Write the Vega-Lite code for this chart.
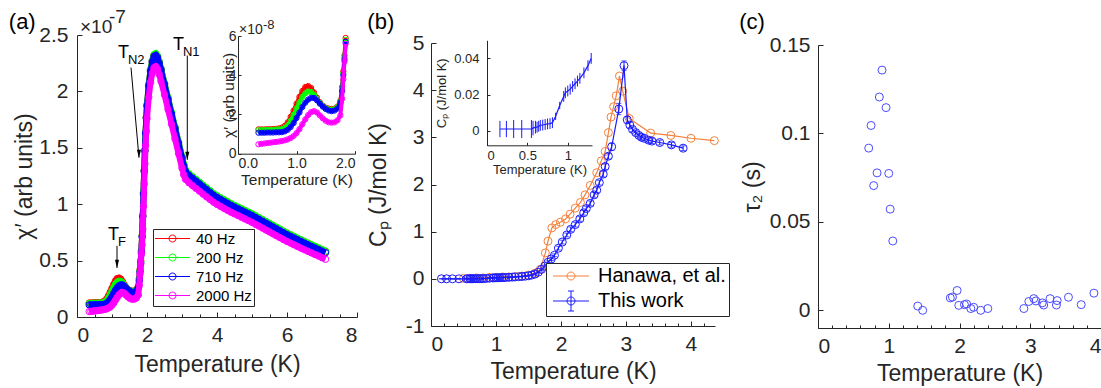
{
"$schema": "https://vega.github.io/schema/vega-lite/v6.json",
"background": "white",
"padding": {"left": 8, "top": 8, "right": 2, "bottom": 2},
"config": {
  "font": "Liberation Sans",
  "view": {"stroke": null},
  "axis": {"grid": false, "domainColor": "#262626", "domainWidth": 1, "tickColor": "#262626", "tickWidth": 1, "tickSize": -5, "labelColor": "#262626", "titleColor": "#262626", "labelFontSize": 21, "titleFontSize": 23, "titleFontWeight": "normal", "labelPadding": 12.5, "titlePadding": 6, "labelFont": "Liberation Sans", "titleFont": "Liberation Sans"},
  "title": {"fontSize": 22, "fontWeight": "normal", "color": "#000000", "anchor": "start", "frame": "bounds", "font": "Liberation Sans"},
  "legend": {"labelFont": "Liberation Sans", "labelColor": "#000000", "strokeColor": "#262626", "fillColor": "white", "cornerRadius": 0}
},
"datasets": {
"A": [
{"T":0.35,"40 Hz":0.124,"200 Hz":0.120,"710 Hz":0.107,"2000 Hz":0.048},
{"T":0.40,"40 Hz":0.124,"200 Hz":0.120,"710 Hz":0.107,"2000 Hz":0.050},
{"T":0.45,"40 Hz":0.124,"200 Hz":0.120,"710 Hz":0.107,"2000 Hz":0.052},
{"T":0.50,"40 Hz":0.125,"200 Hz":0.121,"710 Hz":0.108,"2000 Hz":0.054},
{"T":0.55,"40 Hz":0.125,"200 Hz":0.121,"710 Hz":0.108,"2000 Hz":0.056},
{"T":0.60,"40 Hz":0.126,"200 Hz":0.122,"710 Hz":0.108,"2000 Hz":0.058},
{"T":0.65,"40 Hz":0.127,"200 Hz":0.123,"710 Hz":0.109,"2000 Hz":0.060},
{"T":0.70,"40 Hz":0.129,"200 Hz":0.124,"710 Hz":0.109,"2000 Hz":0.062},
{"T":0.75,"40 Hz":0.133,"200 Hz":0.125,"710 Hz":0.110,"2000 Hz":0.065},
{"T":0.80,"40 Hz":0.142,"200 Hz":0.132,"710 Hz":0.114,"2000 Hz":0.068},
{"T":0.85,"40 Hz":0.160,"200 Hz":0.145,"710 Hz":0.122,"2000 Hz":0.073},
{"T":0.90,"40 Hz":0.188,"200 Hz":0.168,"710 Hz":0.136,"2000 Hz":0.080},
{"T":0.95,"40 Hz":0.220,"200 Hz":0.198,"710 Hz":0.156,"2000 Hz":0.090},
{"T":1.00,"40 Hz":0.255,"200 Hz":0.230,"710 Hz":0.182,"2000 Hz":0.105},
{"T":1.05,"40 Hz":0.290,"200 Hz":0.262,"710 Hz":0.210,"2000 Hz":0.125},
{"T":1.10,"40 Hz":0.320,"200 Hz":0.290,"710 Hz":0.238,"2000 Hz":0.150},
{"T":1.15,"40 Hz":0.340,"200 Hz":0.308,"710 Hz":0.260,"2000 Hz":0.175},
{"T":1.20,"40 Hz":0.345,"200 Hz":0.317,"710 Hz":0.276,"2000 Hz":0.197},
{"T":1.25,"40 Hz":0.335,"200 Hz":0.315,"710 Hz":0.285,"2000 Hz":0.212},
{"T":1.30,"40 Hz":0.312,"200 Hz":0.300,"710 Hz":0.284,"2000 Hz":0.217},
{"T":1.35,"40 Hz":0.285,"200 Hz":0.278,"710 Hz":0.272,"2000 Hz":0.210},
{"T":1.40,"40 Hz":0.262,"200 Hz":0.258,"710 Hz":0.255,"2000 Hz":0.195},
{"T":1.45,"40 Hz":0.245,"200 Hz":0.243,"710 Hz":0.240,"2000 Hz":0.180},
{"T":1.50,"40 Hz":0.235,"200 Hz":0.232,"710 Hz":0.228,"2000 Hz":0.168},
{"T":1.55,"40 Hz":0.230,"200 Hz":0.226,"710 Hz":0.220,"2000 Hz":0.160},
{"T":1.60,"40 Hz":0.228,"200 Hz":0.224,"710 Hz":0.217,"2000 Hz":0.158},
{"T":1.65,"40 Hz":0.230,"200 Hz":0.227,"710 Hz":0.220,"2000 Hz":0.160},
{"T":1.70,"40 Hz":0.240,"200 Hz":0.237,"710 Hz":0.230,"2000 Hz":0.170},
{"T":1.75,"40 Hz":0.270,"200 Hz":0.265,"710 Hz":0.260,"2000 Hz":0.195},
{"T":1.78,"40 Hz":0.340,"200 Hz":0.330,"710 Hz":0.320,"2000 Hz":0.280},
{"T":1.80,"40 Hz":0.420,"200 Hz":0.410,"710 Hz":0.400,"2000 Hz":0.380},
{"T":1.82,"40 Hz":0.500,"200 Hz":0.490,"710 Hz":0.480,"2000 Hz":0.470},
{"T":1.84,"40 Hz":0.590,"200 Hz":0.580,"710 Hz":0.570,"2000 Hz":0.560},
{"T":1.86,"40 Hz":0.720,"200 Hz":0.720,"710 Hz":0.710,"2000 Hz":0.640},
{"T":1.88,"40 Hz":0.900,"200 Hz":0.900,"710 Hz":0.890,"2000 Hz":0.780},
{"T":1.90,"40 Hz":1.100,"200 Hz":1.100,"710 Hz":1.090,"2000 Hz":0.980},
{"T":1.92,"40 Hz":1.300,"200 Hz":1.300,"710 Hz":1.290,"2000 Hz":1.180},
{"T":1.94,"40 Hz":1.480,"200 Hz":1.480,"710 Hz":1.470,"2000 Hz":1.360},
{"T":1.96,"40 Hz":1.640,"200 Hz":1.640,"710 Hz":1.630,"2000 Hz":1.520},
{"T":1.98,"40 Hz":1.770,"200 Hz":1.770,"710 Hz":1.760,"2000 Hz":1.650},
{"T":2.00,"40 Hz":1.880,"200 Hz":1.885,"710 Hz":1.870,"2000 Hz":1.760},
{"T":2.05,"40 Hz":2.060,"200 Hz":2.065,"710 Hz":2.050,"2000 Hz":1.950},
{"T":2.10,"40 Hz":2.190,"200 Hz":2.195,"710 Hz":2.180,"2000 Hz":2.080},
{"T":2.15,"40 Hz":2.270,"200 Hz":2.275,"710 Hz":2.260,"2000 Hz":2.160},
{"T":2.20,"40 Hz":2.320,"200 Hz":2.325,"710 Hz":2.310,"2000 Hz":2.210},
{"T":2.25,"40 Hz":2.330,"200 Hz":2.335,"710 Hz":2.320,"2000 Hz":2.220},
{"T":2.30,"40 Hz":2.310,"200 Hz":2.315,"710 Hz":2.300,"2000 Hz":2.200},
{"T":2.35,"40 Hz":2.260,"200 Hz":2.265,"710 Hz":2.250,"2000 Hz":2.150},
{"T":2.40,"40 Hz":2.200,"200 Hz":2.205,"710 Hz":2.190,"2000 Hz":2.090},
{"T":2.50,"40 Hz":2.070,"200 Hz":2.075,"710 Hz":2.060,"2000 Hz":1.970},
{"T":2.60,"40 Hz":1.940,"200 Hz":1.945,"710 Hz":1.930,"2000 Hz":1.840},
{"T":2.70,"40 Hz":1.810,"200 Hz":1.815,"710 Hz":1.800,"2000 Hz":1.710},
{"T":2.80,"40 Hz":1.680,"200 Hz":1.685,"710 Hz":1.670,"2000 Hz":1.580},
{"T":2.90,"40 Hz":1.550,"200 Hz":1.555,"710 Hz":1.540,"2000 Hz":1.450},
{"T":3.00,"40 Hz":1.420,"200 Hz":1.425,"710 Hz":1.410,"2000 Hz":1.320},
{"T":3.05,"40 Hz":1.350,"200 Hz":1.355,"710 Hz":1.340,"2000 Hz":1.260},
{"T":3.10,"40 Hz":1.300,"200 Hz":1.305,"710 Hz":1.290,"2000 Hz":1.220},
{"T":3.20,"40 Hz":1.265,"200 Hz":1.270,"710 Hz":1.255,"2000 Hz":1.190},
{"T":3.30,"40 Hz":1.240,"200 Hz":1.245,"710 Hz":1.230,"2000 Hz":1.165},
{"T":3.40,"40 Hz":1.215,"200 Hz":1.220,"710 Hz":1.205,"2000 Hz":1.140},
{"T":3.50,"40 Hz":1.190,"200 Hz":1.195,"710 Hz":1.180,"2000 Hz":1.115},
{"T":3.60,"40 Hz":1.165,"200 Hz":1.170,"710 Hz":1.155,"2000 Hz":1.090},
{"T":3.70,"40 Hz":1.140,"200 Hz":1.145,"710 Hz":1.130,"2000 Hz":1.066},
{"T":3.80,"40 Hz":1.115,"200 Hz":1.120,"710 Hz":1.105,"2000 Hz":1.042},
{"T":3.90,"40 Hz":1.090,"200 Hz":1.095,"710 Hz":1.080,"2000 Hz":1.018},
{"T":4.00,"40 Hz":1.070,"200 Hz":1.075,"710 Hz":1.060,"2000 Hz":0.998},
{"T":4.10,"40 Hz":1.052,"200 Hz":1.057,"710 Hz":1.042,"2000 Hz":0.980},
{"T":4.20,"40 Hz":1.035,"200 Hz":1.040,"710 Hz":1.025,"2000 Hz":0.963},
{"T":4.30,"40 Hz":1.018,"200 Hz":1.023,"710 Hz":1.008,"2000 Hz":0.946},
{"T":4.40,"40 Hz":1.000,"200 Hz":1.005,"710 Hz":0.990,"2000 Hz":0.929},
{"T":4.50,"40 Hz":0.985,"200 Hz":0.990,"710 Hz":0.975,"2000 Hz":0.914},
{"T":4.60,"40 Hz":0.970,"200 Hz":0.975,"710 Hz":0.960,"2000 Hz":0.899},
{"T":4.70,"40 Hz":0.955,"200 Hz":0.960,"710 Hz":0.945,"2000 Hz":0.884},
{"T":4.80,"40 Hz":0.940,"200 Hz":0.945,"710 Hz":0.930,"2000 Hz":0.869},
{"T":4.90,"40 Hz":0.925,"200 Hz":0.930,"710 Hz":0.915,"2000 Hz":0.854},
{"T":5.00,"40 Hz":0.910,"200 Hz":0.915,"710 Hz":0.900,"2000 Hz":0.839},
{"T":5.10,"40 Hz":0.893,"200 Hz":0.898,"710 Hz":0.883,"2000 Hz":0.822},
{"T":5.20,"40 Hz":0.876,"200 Hz":0.881,"710 Hz":0.866,"2000 Hz":0.805},
{"T":5.30,"40 Hz":0.859,"200 Hz":0.864,"710 Hz":0.849,"2000 Hz":0.788},
{"T":5.40,"40 Hz":0.842,"200 Hz":0.847,"710 Hz":0.832,"2000 Hz":0.771},
{"T":5.50,"40 Hz":0.825,"200 Hz":0.830,"710 Hz":0.815,"2000 Hz":0.754},
{"T":5.60,"40 Hz":0.808,"200 Hz":0.813,"710 Hz":0.798,"2000 Hz":0.737},
{"T":5.70,"40 Hz":0.791,"200 Hz":0.796,"710 Hz":0.781,"2000 Hz":0.720},
{"T":5.80,"40 Hz":0.774,"200 Hz":0.779,"710 Hz":0.764,"2000 Hz":0.703},
{"T":5.90,"40 Hz":0.757,"200 Hz":0.762,"710 Hz":0.747,"2000 Hz":0.686},
{"T":6.00,"40 Hz":0.740,"200 Hz":0.745,"710 Hz":0.730,"2000 Hz":0.670},
{"T":6.10,"40 Hz":0.725,"200 Hz":0.730,"710 Hz":0.715,"2000 Hz":0.655},
{"T":6.20,"40 Hz":0.710,"200 Hz":0.715,"710 Hz":0.700,"2000 Hz":0.640},
{"T":6.30,"40 Hz":0.695,"200 Hz":0.700,"710 Hz":0.685,"2000 Hz":0.625},
{"T":6.40,"40 Hz":0.680,"200 Hz":0.685,"710 Hz":0.670,"2000 Hz":0.610},
{"T":6.50,"40 Hz":0.665,"200 Hz":0.670,"710 Hz":0.655,"2000 Hz":0.596},
{"T":6.60,"40 Hz":0.650,"200 Hz":0.655,"710 Hz":0.640,"2000 Hz":0.582},
{"T":6.70,"40 Hz":0.636,"200 Hz":0.641,"710 Hz":0.626,"2000 Hz":0.568},
{"T":6.80,"40 Hz":0.622,"200 Hz":0.627,"710 Hz":0.612,"2000 Hz":0.554},
{"T":6.90,"40 Hz":0.608,"200 Hz":0.613,"710 Hz":0.598,"2000 Hz":0.540},
{"T":7.00,"40 Hz":0.594,"200 Hz":0.599,"710 Hz":0.584,"2000 Hz":0.526},
{"T":7.10,"40 Hz":0.580,"200 Hz":0.585,"710 Hz":0.570,"2000 Hz":0.512}
],
"H": [
{"T":0.5,"Cp":0.01},{"T":0.6,"Cp":0.01},{"T":0.7,"Cp":0.02},{"T":0.8,"Cp":0.02},{"T":0.9,"Cp":0.03},{"T":1.0,"Cp":0.03},{"T":1.1,"Cp":0.04},{"T":1.2,"Cp":0.04},{"T":1.3,"Cp":0.05},{"T":1.4,"Cp":0.06},{"T":1.5,"Cp":0.08},{"T":1.6,"Cp":0.12},{"T":1.68,"Cp":0.2},{"T":1.76,"Cp":0.55},{"T":1.8,"Cp":0.8},{"T":1.86,"Cp":1.08},{"T":1.92,"Cp":1.15},{"T":1.99,"Cp":1.2},{"T":2.07,"Cp":1.27},{"T":2.14,"Cp":1.37},{"T":2.22,"Cp":1.5},{"T":2.3,"Cp":1.62},{"T":2.37,"Cp":1.78},{"T":2.45,"Cp":1.98},{"T":2.55,"Cp":2.25},{"T":2.62,"Cp":2.5},{"T":2.68,"Cp":2.7},{"T":2.73,"Cp":3.1},{"T":2.77,"Cp":3.43},{"T":2.81,"Cp":3.65},{"T":2.85,"Cp":3.88},{"T":2.9,"Cp":4.3},{"T":2.95,"Cp":3.98},{"T":3.05,"Cp":3.4},{"T":3.38,"Cp":3.09},{"T":3.69,"Cp":3.04},{"T":4.0,"Cp":2.98},{"T":4.36,"Cp":2.93}
],
"W": [
{"T":0.16,"Cp":0.001,"e":0.0045},{"T":0.24,"Cp":0.001,"e":0.0045},{"T":0.33,"Cp":0.001,"e":0.005},{"T":0.43,"Cp":0.001,"e":0.005},{"T":0.55,"Cp":0.001,"e":0.005},{"T":0.57,"Cp":0.0015,"e":0.004},{"T":0.6,"Cp":0.002,"e":0.0035},{"T":0.62,"Cp":0.002,"e":0.003},{"T":0.64,"Cp":0.0025,"e":0.003},{"T":0.66,"Cp":0.003,"e":0.003},{"T":0.69,"Cp":0.0032,"e":0.003},{"T":0.72,"Cp":0.0035,"e":0.003},{"T":0.75,"Cp":0.0038,"e":0.003},{"T":0.78,"Cp":0.004,"e":0.003},{"T":0.81,"Cp":0.0045,"e":0.003},{"T":0.85,"Cp":0.008,"e":0.002},{"T":0.9,"Cp":0.014,"e":0.002},{"T":0.95,"Cp":0.019,"e":0.003},{"T":0.97,"Cp":0.021,"e":0.003},{"T":1.0,"Cp":0.022,"e":0.003},{"T":1.03,"Cp":0.023,"e":0.003},{"T":1.06,"Cp":0.0245,"e":0.003},{"T":1.09,"Cp":0.026,"e":0.003},{"T":1.12,"Cp":0.0275,"e":0.003},{"T":1.15,"Cp":0.029,"e":0.003},{"T":1.2,"Cp":0.032,"e":0.003},{"T":1.25,"Cp":0.036,"e":0.003},{"T":1.29,"Cp":0.04,"e":0.003},{"T":1.35,"Cp":0.045,"e":0.003},{"T":1.4,"Cp":0.05,"e":0.004},{"T":1.45,"Cp":0.056,"e":0.004},{"T":1.5,"Cp":0.065,"e":0.005},{"T":1.55,"Cp":0.08,"e":0.005},{"T":1.6,"Cp":0.1,"e":0.01},{"T":1.65,"Cp":0.14,"e":0.01},{"T":1.7,"Cp":0.2,"e":0.02},{"T":1.75,"Cp":0.27,"e":0.02},{"T":1.8,"Cp":0.35,"e":0.03},{"T":1.85,"Cp":0.42,"e":0.03},{"T":1.9,"Cp":0.5,"e":0.03},{"T":1.96,"Cp":0.65,"e":0.04},{"T":2.02,"Cp":0.78,"e":0.04},{"T":2.09,"Cp":0.93,"e":0.04},{"T":2.15,"Cp":1.05,"e":0.05},{"T":2.22,"Cp":1.15,"e":0.05},{"T":2.29,"Cp":1.27,"e":0.05},{"T":2.35,"Cp":1.4,"e":0.05},{"T":2.39,"Cp":1.49,"e":0.05},{"T":2.45,"Cp":1.6,"e":0.05},{"T":2.51,"Cp":1.78,"e":0.05},{"T":2.55,"Cp":1.88,"e":0.05},{"T":2.59,"Cp":2.04,"e":0.05},{"T":2.65,"Cp":2.22,"e":0.06},{"T":2.68,"Cp":2.38,"e":0.06},{"T":2.73,"Cp":2.6,"e":0.06},{"T":2.78,"Cp":2.8,"e":0.08},{"T":2.89,"Cp":3.6,"e":0.12},{"T":2.97,"Cp":4.52,"e":0.1},{"T":3.02,"Cp":3.37,"e":0.07},{"T":3.06,"Cp":3.26,"e":0.06},{"T":3.1,"Cp":3.17,"e":0.05},{"T":3.15,"Cp":3.1,"e":0.05},{"T":3.2,"Cp":3.04,"e":0.05},{"T":3.24,"Cp":3.0,"e":0.05},{"T":3.28,"Cp":2.98,"e":0.05},{"T":3.35,"Cp":2.94,"e":0.05},{"T":3.4,"Cp":2.92,"e":0.05},{"T":3.52,"Cp":2.89,"e":0.05},{"T":3.7,"Cp":2.84,"e":0.05},{"T":3.88,"Cp":2.77,"e":0.05}
],
"C": [
{"T":0.905,"tau":0.1358},{"T":0.867,"tau":0.1206},{"T":0.962,"tau":0.1146},{"T":0.75,"tau":0.1045},{"T":0.717,"tau":0.0917},{"T":0.835,"tau":0.0777},{"T":1.0,"tau":0.0774},{"T":0.787,"tau":0.0705},{"T":1.02,"tau":0.0572},{"T":1.057,"tau":0.0392},{"T":1.41,"tau":0.0024},{"T":1.48,"tau":0.0},{"T":1.87,"tau":0.007},{"T":1.9,"tau":0.0075},{"T":1.966,"tau":0.0112},{"T":1.99,"tau":0.0028},{"T":2.07,"tau":0.0032},{"T":2.1,"tau":0.0036},{"T":2.16,"tau":0.001},{"T":2.2,"tau":0.0017},{"T":2.3,"tau":0.0},{"T":2.4,"tau":0.001},{"T":2.91,"tau":0.001},{"T":2.98,"tau":0.005},{"T":3.05,"tau":0.0066},{"T":3.08,"tau":0.0053},{"T":3.17,"tau":0.0042},{"T":3.19,"tau":0.003},{"T":3.28,"tau":0.0066},{"T":3.37,"tau":0.003},{"T":3.38,"tau":0.0055},{"T":3.54,"tau":0.0074},{"T":3.72,"tau":0.0032},{"T":3.9,"tau":0.0097}
]
},
"hconcat": [
{
  "width": 280, "height": 282,
  "title": {"text": "(a)", "dx": -5, "offset": -26},
  "data": {"name": "A"},
  "transform": [{"fold": ["40 Hz", "200 Hz", "710 Hz", "2000 Hz"]}],
  "layer": [
    {
      "encoding": {
        "x": {"field": "T", "type": "quantitative", "title": "Temperature (K)", "scale": {"domain": [0, 8], "nice": false},
          "axis": {"values": [0, 0.5, 1, 1.5, 2, 2.5, 3, 3.5, 4, 4.5, 5, 5.5, 6, 6.5, 7, 7.5, 8], "labelExpr": "datum.value % 2 === 0 ? format(datum.value, '~g') : ''", "tickSize": {"condition": {"test": "datum.value % 2 === 0", "value": -5}, "value": -3}, "titlePadding": 8}},
        "y": {"field": "value", "type": "quantitative", "title": "χ′ (arb units)", "scale": {"domain": [0, 2.5], "nice": false}, "axis": {"values": [0, 0.5, 1, 1.5, 2, 2.5], "labelExpr": "format(datum.value, '.1~f')", "labelPadding": 14, "titlePadding": 2}},
        "color": {"field": "key", "type": "nominal", "scale": {"domain": ["40 Hz", "200 Hz", "710 Hz", "2000 Hz"], "range": ["#ff0000", "#00ff00", "#0000ff", "#ff00ff"]},
          "legend": {"orient": "none", "legendX": 76, "legendY": 194, "title": null, "symbolType": "M-3.5,0L3.5,0M0.7,0A0.7,0.7,0,1,1,-0.7,0A0.7,0.7,0,1,1,0.7,0", "symbolSize": 100, "symbolStrokeWidth": 1, "symbolOffset": 10, "labelOffset": 16, "labelFontSize": 15, "rowPadding": 3, "padding": 2}}
      },
      "layer": [
        {"transform": [{"filter": "datum.key === '40 Hz'"}], "mark": {"type": "line", "strokeWidth": 6, "point": {"filled": false, "size": 42, "strokeWidth": 1}}},
        {"transform": [{"filter": "datum.key === '200 Hz'"}], "mark": {"type": "line", "strokeWidth": 6, "point": {"filled": false, "size": 42, "strokeWidth": 1}}},
        {"transform": [{"filter": "datum.key === '710 Hz'"}], "mark": {"type": "line", "strokeWidth": 6, "point": {"filled": false, "size": 42, "strokeWidth": 1}}},
        {"transform": [{"filter": "datum.key === '2000 Hz'"}], "mark": {"type": "line", "strokeWidth": 6, "point": {"filled": false, "size": 42, "strokeWidth": 1}}},
        {"data": {"values": [{"T": 1.543, "value": 2.211, "T2": 1.771, "value2": 1.412}, {"T": 3.151, "value": 2.318, "T2": 3.151, "value2": 1.394}, {"T": 1.143, "value": 0.631, "T2": 1.143, "value2": 0.435}]},
         "mark": {"type": "rule", "strokeWidth": 1}, "encoding": {"x2": {"field": "T2"}, "y2": {"field": "value2"}, "color": {"value": "#000000"}}},
        {"data": {"values": [{"T": 1.771, "value": 1.412}, {"T": 3.151, "value": 1.394}, {"T": 1.143, "value": 0.435}]},
         "mark": {"type": "point", "shape": "M0,0L-0.45,-1.8L0.45,-1.8Z", "filled": true, "size": 81, "opacity": 1}, "encoding": {"color": {"value": "#000000"}}},
        {"data": {"values": [{"T": 1.17, "value": 2.34, "s": "N2"}, {"T": 2.74, "value": 2.415, "s": "N1"}, {"T": 0.886, "value": 0.728, "s": "F"}]},
         "mark": {"type": "text", "text": "T", "fontSize": 18, "align": "left", "baseline": "middle"}, "encoding": {"color": {"value": "#000000"}}},
        {"data": {"values": [{"T": 1.17, "value": 2.34, "s": "N2"}, {"T": 2.74, "value": 2.415, "s": "N1"}, {"T": 0.886, "value": 0.728, "s": "F"}]},
         "mark": {"type": "text", "fontSize": 13, "align": "left", "baseline": "middle", "dx": 10, "dy": 7}, "encoding": {"text": {"field": "s"}, "color": {"value": "#000000"}}},
        {"data": {"values": [{"T": 0, "value": 2.5}]},
         "mark": {"type": "text", "text": "×10", "fontSize": 19, "align": "left", "baseline": "alphabetic", "dx": 3, "dy": -2}, "encoding": {"color": {"value": "#262626"}}},
        {"data": {"values": [{"T": 0, "value": 2.5}]},
         "mark": {"type": "text", "text": "-7", "fontSize": 19, "align": "left", "baseline": "alphabetic", "dx": 32, "dy": -12}, "encoding": {"color": {"value": "#262626"}}}
      ]
    },
    {
      "transform": [{"filter": "datum.T <= 1.845"}],
      "encoding": {
        "x": {"field": "T", "type": "quantitative", "title": "Temperature (K)", "scale": {"domain": [0, 2], "range": [161, 278], "nice": false}, "axis": {"orient": "bottom", "offset": -163.3, "values": [0, 1, 2], "labelFontSize": 14, "titleFontSize": 15.5, "tickSize": -3, "labelPadding": 6, "titlePadding": 2}},
        "y": {"field": "value", "type": "quantitative", "title": "χ′ (arb units)", "scale": {"domain": [0, 0.6], "range": [118.7, 1], "nice": false}, "axis": {"orient": "left", "offset": -161, "values": [0, 0.2, 0.4, 0.6], "labelExpr": "format(datum.value*10,'d')", "labelFontSize": 14, "titleFontSize": 15.5, "tickSize": -3, "labelPadding": 5, "titlePadding": -8}},
        "color": {"field": "key", "type": "nominal", "scale": {"domain": ["40 Hz", "200 Hz", "710 Hz", "2000 Hz"], "range": ["#ff0000", "#00ff00", "#0000ff", "#ff00ff"]}}
      },
      "layer": [
        {"transform": [{"filter": "datum.key === '40 Hz'"}], "mark": {"type": "line", "strokeWidth": 4, "point": {"filled": false, "size": 28, "strokeWidth": 1}}},
        {"transform": [{"filter": "datum.key === '200 Hz'"}], "mark": {"type": "line", "strokeWidth": 4, "point": {"filled": false, "size": 28, "strokeWidth": 1}}},
        {"transform": [{"filter": "datum.key === '710 Hz'"}], "mark": {"type": "line", "strokeWidth": 4, "point": {"filled": false, "size": 28, "strokeWidth": 1}}},
        {"transform": [{"filter": "datum.key === '2000 Hz'"}], "mark": {"type": "line", "strokeWidth": 4, "point": {"filled": false, "size": 28, "strokeWidth": 1}}},
        {"data": {"values": [{"T": 0, "value": 0.6}]},
         "mark": {"type": "text", "text": "×10", "fontSize": 14, "align": "left", "baseline": "alphabetic", "dx": 1, "dy": -2}, "encoding": {"color": {"value": "#262626"}}},
        {"data": {"values": [{"T": 0, "value": 0.6}]},
         "mark": {"type": "text", "text": "-8", "fontSize": 13, "align": "left", "baseline": "alphabetic", "dx": 25, "dy": -7}, "encoding": {"color": {"value": "#262626"}}}
      ]
    }
  ],
  "resolve": {"scale": {"x": "independent", "y": "independent"}}
},
{
  "width": 284, "height": 291,
  "title": {"text": "(b)", "dx": 0, "offset": -2},
  "layer": [
    {
      "encoding": {
        "x": {"field": "T", "type": "quantitative", "title": "Temperature (K)", "scale": {"domain": [0, 4.37], "nice": false},
          "axis": {"values": [0, 0.2, 0.4, 0.6, 0.8, 1, 1.2, 1.4, 1.6, 1.8, 2, 2.2, 2.4, 2.6, 2.8, 3, 3.2, 3.4, 3.6, 3.8, 4, 4.2], "labelExpr": "abs(datum.value - round(datum.value)) < 0.001 ? format(datum.value, '~g') : ''", "tickSize": {"condition": {"test": "abs(datum.value - round(datum.value)) < 0.001", "value": -5}, "value": -3}}},
        "y": {"field": "Cp", "type": "quantitative", "title": "Cₚ (J/mol K)", "scale": {"domain": [-1, 5], "range": [291, 8], "nice": false}, "axis": {"values": [-1, 0, 1, 2, 3, 4, 5], "labelExpr": "datum.value < 0 ? '-' + format(-datum.value, '~g') : format(datum.value, '~g')", "labelPadding": 12, "titlePadding": 15}}
      },
      "layer": [
        {"data": {"name": "H"}, "mark": {"type": "line", "strokeWidth": 1.2, "point": {"filled": false, "size": 64, "strokeWidth": 1}},
         "encoding": {"color": {"datum": "Hanawa, et al.", "scale": {"domain": ["Hanawa, et al.", "This work"], "range": ["#f5813c", "#1a1aff"]},
           "legend": {"orient": "none", "legendX": 115, "legendY": 228, "title": null, "symbolType": "M-3.6,0L3.6,0M0.8,0A0.8,0.8,0,1,1,-0.8,0A0.8,0.8,0,1,1,0.8,0", "symbolSize": 100, "symbolStrokeWidth": 1, "symbolOffset": 12, "labelOffset": 17, "labelFontSize": 20, "rowPadding": 3, "padding": 3,
             "encode": {"symbols": {"update": {"shape": {"signal": "datum.value === 'This work' ? 'M-3.6,0L3.6,0M0.8,0A0.8,0.8,0,1,1,-0.8,0A0.8,0.8,0,1,1,0.8,0M0,-2L0,2M-0.6,-2L0.6,-2M-0.6,2L0.6,2' : 'M-3.6,0L3.6,0M0.8,0A0.8,0.8,0,1,1,-0.8,0A0.8,0.8,0,1,1,0.8,0'"}}}}}}}},
        {"data": {"name": "W"}, "mark": {"type": "errorbar", "ticks": true, "color": "#1a1aff"}, "encoding": {"yError": {"field": "e"}}},
        {"data": {"name": "W"}, "mark": {"type": "line", "strokeWidth": 1.2, "point": {"filled": false, "size": 64, "strokeWidth": 1}},
         "encoding": {"color": {"datum": "This work"}}}
      ]
    },
    {
      "data": {"name": "W"},
      "transform": [{"filter": "datum.T <= 1.3"}],
      "encoding": {
        "x": {"field": "T", "type": "quantitative", "title": "Temperature (K)", "scale": {"domain": [0, 1.3], "range": [56, 161], "nice": false}, "axis": {"orient": "bottom", "offset": -180.7, "values": [0, 0.5, 1], "format": "~g", "labelFontSize": 13, "titleFontSize": 13, "tickSize": -3, "labelPadding": 7.5, "titlePadding": 1}},
        "y": {"field": "Cp", "type": "quantitative", "title": "Cₚ (J/mol K)", "scale": {"domain": [-0.008, 0.05], "range": [110.3, 5.3], "nice": false}, "axis": {"orient": "left", "offset": -56, "values": [0, 0.02, 0.04], "labelExpr": "format(datum.value, '.2~f')", "labelFontSize": 13, "titleFontSize": 13, "tickSize": -3, "labelPadding": 11, "titlePadding": 5}}
      },
      "layer": [
        {"mark": {"type": "errorbar", "color": "#1a1aff"}, "encoding": {"yError": {"field": "e"}}},
        {"mark": {"type": "line", "strokeWidth": 1.2, "color": "#1a1aff"}},
        {"data": {"values": [{}]}, "mark": {"type": "rule", "color": "#ff0000", "strokeWidth": 2, "strokeDash": [2, 2]}, "encoding": {"x": {"datum": 1.2}, "y": {"datum": -0.008}, "y2": {"datum": 0.05}}},
        {"data": {"values": [{}]}, "mark": {"type": "text", "text": "T", "fontSize": 15, "color": "#ff0000", "align": "left", "baseline": "middle"}, "encoding": {"x": {"datum": 0.95}, "y": {"datum": 0.0475}}},
        {"data": {"values": [{}]}, "mark": {"type": "text", "text": "F", "fontSize": 11, "color": "#ff0000", "align": "left", "baseline": "middle", "dx": 9, "dy": 5}, "encoding": {"x": {"datum": 0.95}, "y": {"datum": 0.0475}}}
      ]
    }
  ],
  "resolve": {"scale": {"x": "independent", "y": "independent"}}
},
{
  "width": 283, "height": 293,
  "title": {"text": "(c)", "dx": -2, "offset": 0},
  "encoding": {
    "x": {"field": "T", "type": "quantitative", "title": "Temperature (K)", "scale": {"domain": [0, 4], "nice": false},
      "axis": {"values": [0, 0.2, 0.4, 0.6, 0.8, 1, 1.2, 1.4, 1.6, 1.8, 2, 2.2, 2.4, 2.6, 2.8, 3, 3.2, 3.4, 3.6, 3.8, 4], "labelExpr": "abs(datum.value - round(datum.value)) < 0.001 ? format(datum.value, '~g') : ''", "tickSize": {"condition": {"test": "abs(datum.value - round(datum.value)) < 0.001", "value": -5}, "value": -3}}},
    "y": {"field": "tau", "type": "quantitative", "title": "τ₂ (s)", "scale": {"domain": [-0.01, 0.15], "range": [293, 10], "nice": false}, "axis": {"values": [0, 0.05, 0.1, 0.15], "labelExpr": "format(datum.value, '.2~f')", "labelPadding": 13, "titlePadding": 5}}
  },
  "layer": [
    {"data": {"name": "C"}, "mark": {"type": "point", "filled": false, "size": 64, "strokeWidth": 1, "color": "#4b4bff", "opacity": 1}},
    {"data": {"values": [{}]}, "mark": {"type": "rule", "color": "#ff0000", "strokeWidth": 2, "strokeDash": [2, 2]}, "encoding": {"x": {"datum": 1.2}, "y": {"datum": -0.01}, "y2": {"datum": 0.15}}},
    {"data": {"values": [{}]}, "mark": {"type": "text", "text": "T", "fontSize": 24, "color": "#ff0000", "align": "left", "baseline": "middle"}, "encoding": {"x": {"datum": 1.34}, "y": {"datum": 0.1463}}},
    {"data": {"values": [{}]}, "mark": {"type": "text", "text": "F", "fontSize": 15, "color": "#ff0000", "align": "left", "baseline": "middle", "dx": 14, "dy": 8}, "encoding": {"x": {"datum": 1.34}, "y": {"datum": 0.1463}}}
  ]
}
],
"spacing": 9,
"resolve": {"scale": {"color": "independent"}, "legend": {"color": "independent"}}
}
